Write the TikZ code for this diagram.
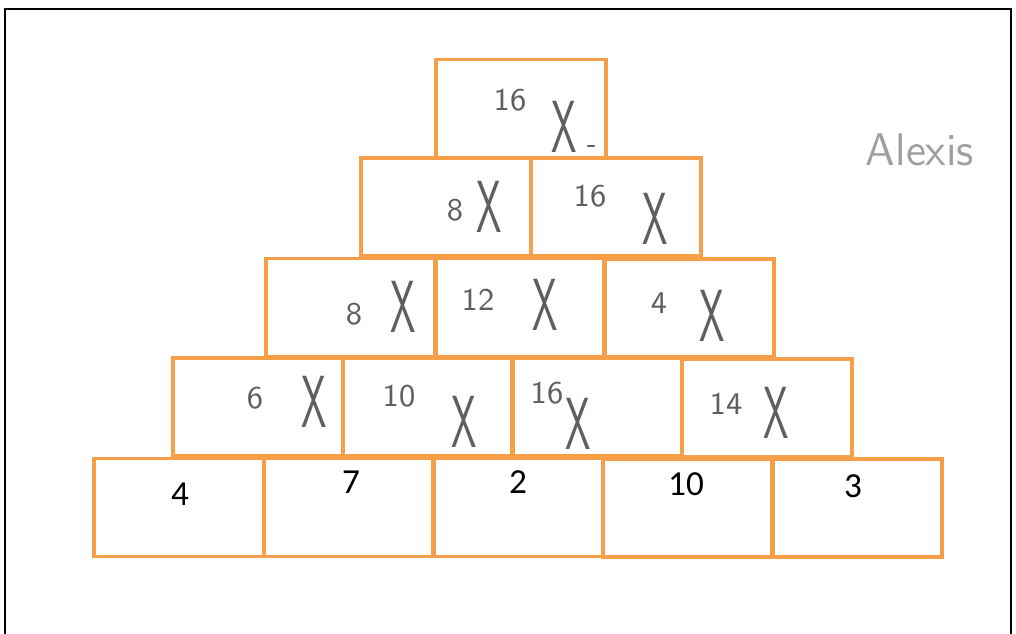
\documentclass[tikz,border=0pt]{standalone}
\usepackage{fontspec}
\newfontfamily\printfont{Carlito}
\usepackage{tikz}
\usepackage{xcolor}

\definecolor{boxorange}{RGB}{246,158,72}
\definecolor{pencil}{RGB}{95,95,95}

\begin{document}
\begin{tikzpicture}[x=0.01cm,y=-0.01cm,line cap=round,
  brick/.style={draw=boxorange,line width=0.9pt,minimum width=1.7cm,minimum height=0.98cm,inner sep=0pt},
  given/.style={font=\printfont\fontsize{10}{12}\selectfont},
  guess/.style={text=pencil,font=\sffamily\fontsize{9}{10}\selectfont},
  cross/.style={text=pencil,xscale=0.55,inner sep=1pt,font=\sffamily\fontsize{21}{22}\selectfont}]
\useasboundingbox (0,0) rectangle (1016,633);
\draw[line width=0.7pt] (5,9) -- (5,640);
\draw[line width=0.7pt] (5,9) -- (1011,9) -- (1011,640);
% bricks, top to bottom
\node[brick] (b11) at (521,108.5) {};
\node[brick] (b21) at (446,207) {};
\node[brick] (b22) at (616,207) {};
\node[brick] (b31) at (351,307.5) {};
\node[brick] (b32) at (520,307.5) {};
\node[brick] (b33) at (689,308) {};
\node[brick] (b41) at (258,407) {};
\node[brick] (b42) at (428,407) {};
\node[brick] (b43) at (597,407) {};
\node[brick] (b44) at (767,408) {};
\node[brick] (b51) at (179,507.5) {};
\node[brick] (b52) at (349,507.5) {};
\node[brick] (b53) at (518,507.5) {};
\node[brick] (b54) at (688,508) {};
\node[brick] (b55) at (857,508) {};
% printed base row
\node[given] (n51) at (180,494) {4};
\node[given] (n52) at (351,482) {7};
\node[given] (n53) at (518,482) {2};
\node[given] (n54) at (686,484) {10};
\node[given] (n55) at (853,486) {3};
% pencil answers
\node[guess] (g11) at (510,100) {16};
\node[cross] (x11) at (564,127) {X};
\draw[pencil,line width=0.6pt] (588,146) -- (594,146);
\node[guess] (g21) at (455,210) {8};
\node[cross] (x21) at (489,207) {X};
\node[guess] (g22) at (590,196) {16};
\node[cross] (x22) at (655,219) {X};
\node[guess] (g31) at (354,314) {8};
\node[cross] (x31) at (403,307) {X};
\node[guess] (g32) at (478,300) {12};
\node[cross] (x32) at (545,305) {X};
\node[guess] (g33) at (659,303) {4};
\node[cross] (x33) at (712,316) {X};
\node[guess] (g41) at (255,398) {6};
\node[cross] (x41) at (314,402) {X};
\node[guess] (g42) at (399,396) {10};
\node[cross] (x42) at (464,422) {X};
\node[guess] (g43) at (547,393) {16};
\node[cross] (x43) at (578,424) {X};
\node[guess] (g44) at (726,404) {14};
\node[cross] (x44) at (776,413) {X};
% name
\node[text=pencil!60,font=\sffamily\fontsize{13}{14}\selectfont] (who) at (920,150) {Alexis};
\end{tikzpicture}
\end{document}
